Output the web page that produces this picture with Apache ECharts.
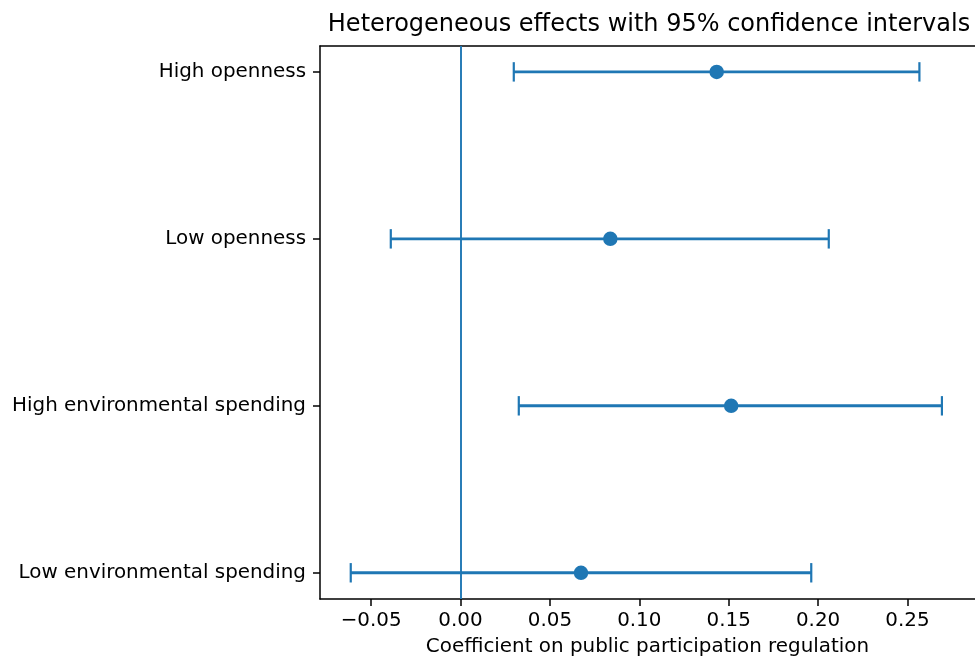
<!DOCTYPE html>
<html>
<head>
<meta charset="utf-8">
<script src="https://cdn.jsdelivr.net/npm/echarts@6/dist/echarts.min.js"></script>
<style>
html,body{margin:0;padding:0;background:#fff;}
#chart{width:975px;height:662px;}
</style>
</head>
<body>
<div id="chart"></div>
<script>
const categories = ['High openness', 'Low openness', 'High environmental spending', 'Low environmental spending'];
const estimates = [0.1433, 0.0838, 0.1514, 0.0674];
const ciLow = [0.0298, -0.0390, 0.0326, -0.0614];
const ciHigh = [0.2567, 0.2060, 0.2693, 0.1962];
const xTicks = [-0.05, 0.00, 0.05, 0.10, 0.15, 0.20, 0.25];
const yTicks = [0, 1, 2, 3];
const titleText = 'Heterogeneous effects with 95% confidence intervals';
const xName = 'Coefficient on public participation regulation';

const C = '#1f77b4';
const FONT = 'DejaVu Sans';
const FS = 19.9;
const X_MIN = -0.0786, X_MAX = 0.2878;

const chart = echarts.init(document.getElementById('chart'), null, {renderer: 'canvas'});

const errData = categories.map((c, i) => [i, ciLow[i], ciHigh[i]]);
const ptData = categories.map((c, i) => [estimates[i], i]);

const option = {
  animation: false,
  backgroundColor: '#fff',
  title: {
    text: titleText,
    left: 649,
    textAlign: 'center',
    top: 13,
    padding: 0,
    textStyle: {fontFamily: FONT, fontSize: 24, fontWeight: 'normal', color: '#000'}
  },
  grid: {
    left: 320, top: 46, width: 660, height: 556,
    show: false
  },
  xAxis: [{
    type: 'value',
    min: X_MIN, max: X_MAX,
    splitLine: {show: false},
    axisLine: {show: true, onZero: false, lineStyle: {color: '#000', width: 1.5}},
    axisTick: {show: true, length: 7, lineStyle: {color: '#000', width: 1.5}, customValues: xTicks},
    axisLabel: {
      customValues: xTicks,
      margin: 12,
      fontFamily: FONT, fontSize: FS, color: '#000',
      formatter: v => v.toFixed(2).replace('-', '\u2212')
    },
    name: xName,
    nameLocation: 'middle',
    nameGap: 38,
    nameTextStyle: {fontFamily: FONT, fontSize: FS, color: '#000'}
  }, {
    type: 'value',
    position: 'top',
    min: X_MIN, max: X_MAX,
    splitLine: {show: false},
    axisLine: {show: true, onZero: false, lineStyle: {color: '#000', width: 1.5}},
    axisTick: {show: false},
    axisLabel: {show: false}
  }],
  yAxis: {
    type: 'value',
    min: -0.155, max: 3.157,
    inverse: true,
    splitLine: {show: false},
    axisLine: {show: true, onZero: false, lineStyle: {color: '#000', width: 1.5}},
    axisTick: {show: true, length: 7, lineStyle: {color: '#000', width: 1.5}, customValues: yTicks},
    axisLabel: {
      customValues: yTicks,
      margin: 14,
      fontFamily: FONT, fontSize: FS, color: '#000',
      formatter: v => categories[Math.round(v)]
    }
  },
  series: [
    {
      type: 'custom',
      data: errData,
      encode: {x: [1, 2], y: 0},
      z: 2,
      renderItem: function (params, api) {
        const y = api.value(0);
        const p1 = api.coord([api.value(1), y]);
        const p2 = api.coord([api.value(2), y]);
        const cap = 9.7;
        return {
          type: 'group',
          children: [
            {type: 'line', shape: {x1: p1[0], y1: p1[1], x2: p2[0], y2: p2[1]}, style: {stroke: C, lineWidth: 2.9}},
            {type: 'line', shape: {x1: p1[0], y1: p1[1] - cap, x2: p1[0], y2: p1[1] + cap}, style: {stroke: C, lineWidth: 2.2}},
            {type: 'line', shape: {x1: p2[0], y1: p2[1] - cap, x2: p2[0], y2: p2[1] + cap}, style: {stroke: C, lineWidth: 2.2}}
          ]
        };
      },
      markLine: {
        silent: true,
        symbol: ['none', 'none'],
        label: {show: false},
        lineStyle: {color: C, width: 1.9, type: 'solid'},
        data: [{xAxis: 0}]
      }
    },
    {
      type: 'scatter',
      data: ptData,
      symbol: 'circle',
      symbolSize: 14.5,
      itemStyle: {color: C, opacity: 1},
      z: 3
    }
  ]
};
chart.setOption(option);
</script>
</body>
</html>
